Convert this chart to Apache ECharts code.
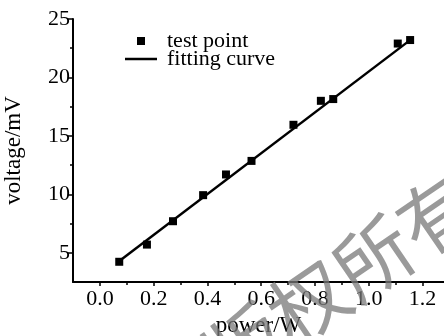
<!DOCTYPE html>
<html>
<head>
<meta charset="utf-8">
<script src="https://cdn.jsdelivr.net/npm/echarts@6/dist/echarts.min.js"></script>
<style>
  html, body { margin: 0; padding: 0; background: #fff; }
  #chart { width: 444px; height: 336px; }
</style>
</head>
<body>
<div id="chart"></div>
<script>
// measured test points
const powerW = [0.072, 0.175, 0.272, 0.384, 0.469, 0.564, 0.72, 0.822, 0.868, 1.108, 1.154];
const voltageMV = [4.23, 5.7, 7.7, 9.93, 11.7, 12.86, 15.95, 18.0, 18.15, 22.9, 23.2];

// linear fit end points
const fitPower = [0.07, 1.16];
const fitVoltage = [4.25, 23.3];

const xTickLabels = [0.0, 0.2, 0.4, 0.6, 0.8, 1.0, 1.2];
const xMinorTicks = [0.1, 0.3, 0.5, 0.7, 0.9, 1.1];
const yTickLabels = [5, 10, 15, 20, 25];
const yMinorTicks = [7.5, 12.5, 17.5, 22.5];

const FONT = '"Liberation Serif", "Times New Roman", serif';

const chart = echarts.init(document.getElementById('chart'), null, { renderer: 'canvas' });

const legendText = { fontFamily: FONT, fontSize: 22, color: '#000', lineHeight: 22 };

const option = {
  animation: false,
  grid: { left: 73, right: 0, top: 19, bottom: 54, outerBoundsMode: 'none' },
  legend: [
    {
      left: 137, top: 30, padding: 0,
      itemWidth: 8, itemHeight: 8,
      textStyle: Object.assign({ padding: [0, 0, 0, 17] }, legendText),
      data: [{ name: 'test point', icon: 'rect', itemStyle: { color: '#000', opacity: 1 } }]
    },
    {
      left: 125, top: 48, padding: 0,
      itemWidth: 32, itemHeight: 2.5,
      textStyle: Object.assign({ padding: [0, 0, 0, 5] }, legendText),
      data: [{ name: 'fitting curve', icon: 'rect', itemStyle: { color: '#000' } }]
    }
  ],
  xAxis: [
    {
      type: 'value', min: -0.1, max: 1.28,
      name: 'power/W', nameLocation: 'middle', nameGap: 28,
      nameTextStyle: { fontFamily: FONT, fontSize: 23, color: '#000' },
      axisLine: { onZero: false, lineStyle: { color: '#000', width: 2 } },
      axisTick: { customValues: xTickLabels, length: 4, lineStyle: { color: '#000', width: 1.5 } },
      axisLabel: {
        customValues: xTickLabels, margin: 6,
        fontFamily: FONT, fontSize: 22, color: '#000',
        formatter: v => v.toFixed(1)
      },
      splitLine: { show: false }
    },
    {
      type: 'value', min: -0.1, max: 1.28, position: 'bottom', gridIndex: 0,
      axisLine: { show: false, onZero: false },
      axisTick: { customValues: xMinorTicks, length: 3, lineStyle: { color: '#000', width: 1.5 } },
      axisLabel: { show: false },
      splitLine: { show: false }
    }
  ],
  yAxis: [
    {
      type: 'value', min: 2.5, max: 25,
      name: 'voltage/mV', nameLocation: 'middle', nameGap: 48,
      nameTextStyle: { fontFamily: FONT, fontSize: 23, color: '#000' },
      axisLine: { onZero: false, lineStyle: { color: '#000', width: 2 } },
      axisTick: { customValues: yTickLabels, length: 5, lineStyle: { color: '#000', width: 1.5 } },
      axisLabel: {
        customValues: yTickLabels, margin: 3,
        fontFamily: FONT, fontSize: 22, color: '#000'
      },
      splitLine: { show: false }
    },
    {
      type: 'value', min: 2.5, max: 25, position: 'left', gridIndex: 0,
      axisLine: { show: false, onZero: false },
      axisTick: { customValues: yMinorTicks, length: 3, lineStyle: { color: '#000', width: 1.5 } },
      axisLabel: { show: false },
      splitLine: { show: false }
    }
  ],
  series: [
    {
      name: 'test point',
      type: 'scatter',
      symbol: 'rect',
      symbolSize: 8,
      itemStyle: { color: '#000', opacity: 1 },
      z: 3,
      data: powerW.map((p, i) => [p, voltageMV[i]])
    },
    {
      name: 'fitting curve',
      type: 'line',
      symbol: 'none',
      lineStyle: { color: '#000', width: 2.5 },
      itemStyle: { color: '#000' },
      z: 2,
      data: fitPower.map((p, i) => [p, fitVoltage[i]])
    }
  ],
  graphic: [
    {
      type: 'text',
      x: 341, y: 280,
      rotation: 0.6,
      z: 100,
      silent: true,
      style: {
        text: '版权所有',
        fontFamily: '"Noto Sans CJK SC"',
        fontSize: 78,
        fill: 'rgba(120,120,120,0.75)',
        align: 'center',
        verticalAlign: 'middle'
      }
    }
  ]
};

chart.setOption(option);
</script>
</body>
</html>
